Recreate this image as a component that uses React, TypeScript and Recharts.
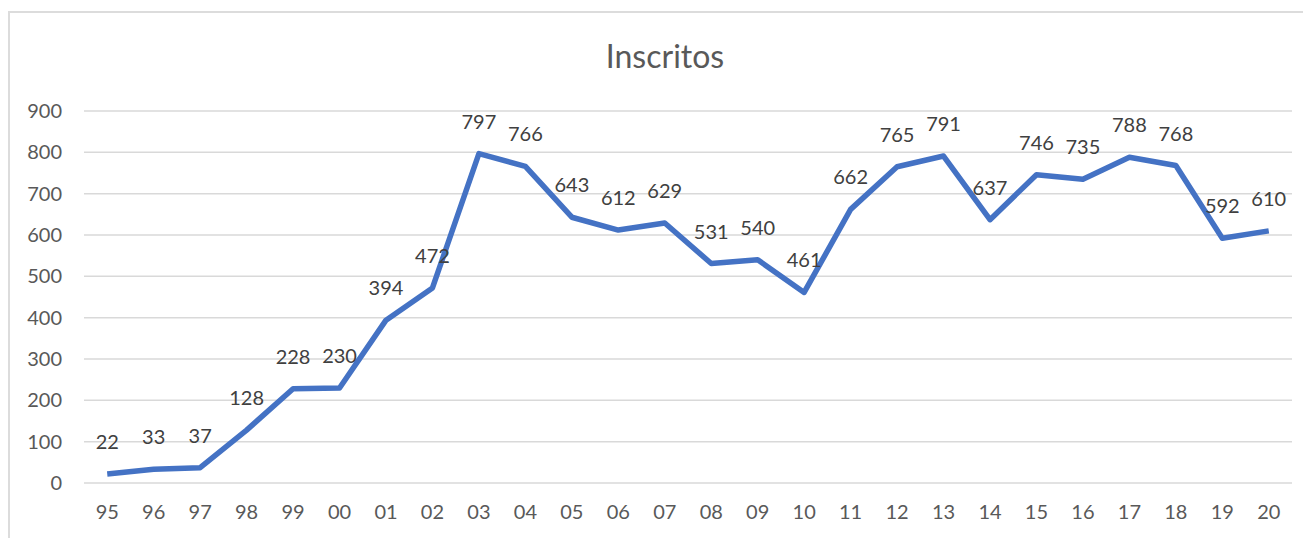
import { LineChart, Line, XAxis, YAxis, CartesianGrid, LabelList } from 'recharts'

const YEARS = ['95', '96', '97', '98', '99', '00', '01', '02', '03', '04', '05', '06', '07',
  '08', '09', '10', '11', '12', '13', '14', '15', '16', '17', '18', '19', '20']
const INSCRITOS = [22, 33, 37, 128, 228, 230, 394, 472, 797, 766, 643, 612, 629,
  531, 540, 461, 662, 765, 791, 637, 746, 735, 788, 768, 592, 610]
const Y_TICKS = [0, 100, 200, 300, 400, 500, 600, 700, 800, 900]

const data = YEARS.map((year, i) => ({ year, inscritos: INSCRITOS[i] }))

const FONT = 'Lato, "Open Sans", sans-serif'

export default function App() {
  return (
    <div style={{ position: 'relative', width: 1303, height: 530, overflow: 'hidden', fontFamily: FONT }}>
      <div
        style={{
          position: 'absolute', left: 0, top: 3, width: 1330, height: 600,
          border: '2px solid #dcdcdc', boxSizing: 'border-box',
        }}
      />
      <div
        style={{
          position: 'absolute', left: 557, top: 32, width: 200, textAlign: 'center',
          fontSize: 32, lineHeight: '32px', color: '#595959',
        }}
      >
        Inscritos
      </div>
      <div style={{ position: 'absolute', left: 0, top: 0 }}>
        <LineChart width={1303} height={530} data={data} margin={{ top: 103, right: 19, left: 0, bottom: 15 }}>
          <CartesianGrid vertical={false} stroke="#d9d9d9" strokeWidth={1.5} />
          <XAxis
            dataKey="year" scale="band" height={40} axisLine={false} tickLine={false}
            tickMargin={16} interval={0}
            tick={{ fontSize: 20, fill: '#595959', fontFamily: FONT }}
          />
          <YAxis
            width={76} domain={[0, 900]} ticks={Y_TICKS} axisLine={false} tickLine={false}
            tickMargin={16} tick={{ fontSize: 20, fill: '#595959', fontFamily: FONT }}
          />
          <Line
            type="linear" dataKey="inscritos" stroke="#4472C4" strokeWidth={5.5}
            strokeLinejoin="round" dot={false} isAnimationActive={false}
          >
            <LabelList dataKey="inscritos" position="top" offset={25} fill="#404040" fontSize={20} fontFamily={FONT} />
          </Line>
        </LineChart>
      </div>
    </div>
  )
}
